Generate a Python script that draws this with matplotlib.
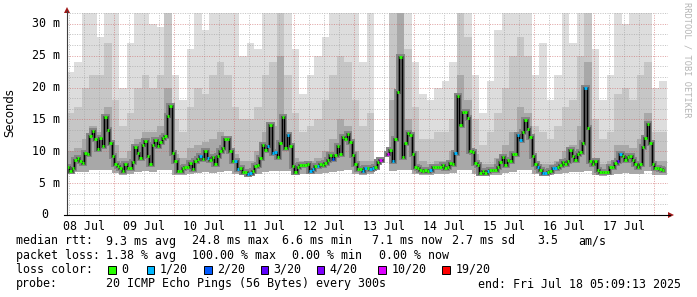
import numpy as np
import matplotlib
matplotlib.use("Agg")
import matplotlib.pyplot as plt
from matplotlib.lines import Line2D
from matplotlib.patches import Rectangle, Polygon

W, H = 697, 297
MONO = "DejaVu Sans Mono"
plt.rcParams['font.family'] = MONO

# hourly median rtt (ms), first sample 05:30 on 08 Jul
median_ms = [
    7.6, 6.95, 7.3, 8.7, 8.9, 8.5, 8.2, 9.7, 9.5, 12.4, 13.2, 12.0, 10.3, 12.1,
    10.9, 15.4, 13.3, 11.3, 9.2, 8.0, 7.7, 7.4, 6.95, 8.0, 7.4, 7.4, 8.3, 10.7,
    9.8, 8.9, 11.0, 11.6, 9.2, 8.0, 11.0, 11.8, 10.8, 11.5, 12.1, 12.4, 15.5,
    17.1, 9.8, 8.4, 6.9, 6.9, 7.3, 7.5, 7.6, 8.1, 7.2, 8.4, 8.8, 9.3, 8.8, 10.0,
    8.95, 8.7, 9.15, 8.0, 9.3, 10.0, 10.5, 11.9, 12.0, 10.1, 8.5, 8.4, 7.2, 7.3,
    6.75, 6.75, 6.5, 6.65, 6.9, 7.7, 7.9, 8.95, 11.0, 10.2, 10.9,
    14.2, 9.7, 9.9, 9.15, 11.25, 15.4, 10.5, 12.5, 10.8, 7.7, 6.75, 7.6, 7.8,
    7.8, 7.8, 8.0, 6.96, 7.2, 7.7, 7.7, 8.0, 7.8, 8.1, 8.6, 9.4, 8.8, 9.4, 10.8,
    9.5, 12.2, 11.9, 12.7, 11.5, 9.4, 8.0, 7.2, 7.2, 6.96, 7.3,
    7.4, 7.2, 7.3, 7.6, 8.3, 8.6, np.nan, np.nan, 9.6, 10.2, 8.5, 11.9, 19.3,
    24.85, 9.05, 11.35, 12.9, 12.6, 9.6, 7.6, 7.3, 7.06, 6.96, 7.06, 6.85, 7.06,
    7.5, 7.5, 7.6, 7.6, 7.9, 7.4, 7.6, 8.1, 8.0, 9.8, 18.6, 14.2, 16.2, 16.2, 15.2,
    10.1, 9.9, 8.1, 7.9, 6.65, 6.85, 6.65, 6.85, 7.06, 7.06, 7.06, 7.6, 8.3,
    9.15, 7.9, 8.7, 8.5, 9.6, 9.6, 12.5, 11.8, 13.1, 14.9, 13.45, 12.3, 9.3, 8.0,
    7.5, 7.06, 6.65, 6.65, 6.75, 6.96, 7.3, 7.3, 7.6, 7.9, 8.3, 8.0, 8.4,
    10.2, 9.3, 8.7, 9.5, 9.9, 11.35, 19.9, 13.7, 8.5, 8.0, 8.5, 7.06, 6.75, 6.75,
    6.75, 6.75, 7.5, 7.6, 8.2, 8.5, 9.6, 9.3, 8.7, 9.05, 9.3, 8.6, 8.0, 7.6, 8.0,
    10.6, 12.1, 14.3, 11.25, 8.0, 7.3, 7.4, 7.2, 7.06,
]
first_hour = 5.5   # hours after 08 Jul 00:00

# samples with lost pings (index into median_ms, pings lost of 20)
loss_idx = [53, 56, 67, 68, 72, 73, 80, 82, 83, 88, 97, 98, 100, 106, 118, 119,
            121, 122, 125, 128, 130, 145, 155, 168, 180, 181, 188, 190, 191,
            194, 195, 207, 220, 221]
loss_cnt = [1, 1, 1, 1, 1, 1, 1, 1, 1, 1, 1, 1, 1, 2, 1, 1,
            1, 1, 10, 10, 1, 1, 1, 1, 1, 1, 1, 1, 1,
            1, 1, 1, 3, 1]

# smoke, 3 hour bins starting 05:00 on 08 Jul (ms)
smoke_bot = [6.4, 6.7, 6.8, 7.0, 7.0, 7.1, 6.6, 6.3, 6.4, 6.7,
             6.9, 6.7, 7.0, 7.1, 6.3, 6.3, 6.4, 6.6, 6.7, 6.6,
             6.7, 6.9, 6.4, 6.2, 6.1, 6.4, 6.8, 6.9, 6.9, 6.9,
             6.3, 6.5, 6.4, 6.5, 6.6, 6.7, 6.9, 7.0, 6.4, 6.3,
             6.4, 6.6, np.nan, 6.9, 7.1, 7.1, 6.4, 6.3, 6.3, 6.4,
             6.4, 6.6, 7.1, 7.1, 6.5, 6.1, 6.2, 6.3, 6.6, 6.7,
             7.0, 7.1, 6.4, 6.1, 6.2, 6.4, 6.6, 6.7, 6.8, 6.9,
             6.3, 6.1, 6.2, 6.5, 6.6, 6.5, 6.5, 6.9, 6.3, 6.2]
smoke_dark = [10, 10.5, 12, 14, 13, 17, 11, 9, 10, 12,
              13, 13, 14, 20, 9.5, 9, 10.5, 11, 11.5, 12,
              13, 11, 9.5, 8.5, 8.5, 10, 13, 14, 25, 13,
              9, 8.5, 8.5, 9, 10, 12, 15, 14, 10, 8.5,
              8.5, 9.5, np.nan, 18, 31.7, 15, 10, 8.5, 8, 8.5,
              8.5, 10, 22, 18, 9.5, 8, 8, 9, 11, 13,
              17, 16, 8.5, 8, 8, 8.5, 10, 11, 14, 24,
              9, 8, 8.5, 11, 11, 10.5, 12, 16, 8.5, 8.5]
smoke_mid = [16, 17, 20, 22, 22, 27, 18, 14, 16, 20,
             22, 20, 22, 31.7, 15, 13, 17, 20, 19, 22,
             24, 22, 17, 15, 15, 17, 22, 24, 31.7, 22,
             16, 13, 14, 15, 18, 22, 25, 24, 18, 14,
             16, 17, np.nan, 31.7, 31.7, 26, 17, 12, 12, 13,
             13, 15, 31.7, 28, 15, 11, 13, 16, 20, 25,
             28, 25, 14, 13, 12, 14, 17, 18, 25, 31.7,
             15, 12, 13, 19, 20, 18, 22, 24, 13, 13]
smoke_top = [22.5, 24, 31.7, 31.7, 28, 31.7, 31.7, 20, 27, 31.7,
             31.7, 30, 29.5, 31.7, 22, 18, 26, 31.7, 29, 31.7,
             31.7, 31.7, 31.7, 25, 27, 26, 31.7, 31.7, 31.7, 31.7,
             26, 19, 22, 25, 28, 31.7, 31.7, 31.7, 31.7, 24,
             31.7, 28, np.nan, 31.7, 31.7, 31.7, 24, 19, 18, 20,
             21, 24, 31.7, 31.7, 22, 16, 21, 29, 31.7, 31.7,
             31.7, 31.7, 22, 27, 18, 22, 31.7, 27, 31.7, 31.7,
             26, 18, 22, 31.7, 30, 31.7, 31.7, 31.7, 20, 21]
smoke_start = 5.0
smoke_step = 3.0

loss_levels = [0, 1, 2, 3, 4, 10, 19]
loss_colors = ['#26ff00', '#00b8ff', '#0059ff', '#5e00ff', '#7e00ff', '#dd00ff', '#ff0000']
loss_labels = ['0', '1/20', '2/20', '3/20', '4/20', '10/20', '19/20']

day_labels = ['08 Jul', '09 Jul', '10 Jul', '11 Jul', '12 Jul',
              '13 Jul', '14 Jul', '15 Jul', '16 Jul', '17 Jul']

t_start = 5.154          # 08 Jul 05:09
t_end = t_start + 601 / 2.5
y_max = 31.7


def fx(px):
    return px / W


def fy(py):
    return 1 - py / H


fig = plt.figure(figsize=(W / 100, H / 100), dpi=100)
fig.patch.set_facecolor('white')
ax = fig.add_axes([fx(67), fy(215), 601 / W, 202 / H])
ax.set_xlim(t_start, t_end)
ax.set_ylim(0, y_max)
for s in ax.spines.values():
    s.set_visible(False)
ax.set_xticks([])
ax.set_yticks([])

# smoke
xs = smoke_start + smoke_step * np.arange(len(smoke_top) + 1)
def ext(a):
    return np.append(np.array(a, float), a[-1])
bot = ext(smoke_bot)
ax.fill_between(xs, bot, ext(smoke_top), step='post', color='#dddddd', lw=0, antialiased=False, zorder=1)
ax.fill_between(xs, bot, ext(smoke_mid), step='post', color='#c6c6c6', lw=0, antialiased=False, zorder=1.1)
ax.fill_between(xs, bot, ext(smoke_dark), step='post', color='#a8a8a8', lw=0, antialiased=False, zorder=1.2)

# grid, 1px on / 1px off dots
minor = dict(color='#a8a8a8', alpha=0.7, lw=0.72, ls=(0, (1, 1.4)), zorder=2)
major = dict(color='#cc6666', alpha=0.6, lw=0.72, ls=(0, (1, 1.4)), zorder=2.1)
for h in np.arange(6, 246, 6):
    if h % 24 == 0:
        ax.axvline(h, **major)
    else:
        ax.axvline(h, **minor)
for v in np.arange(1, 20) * 5 / 3:
    if abs(v / 5 - round(v / 5)) < 1e-6:
        ax.axhline(v, **major)
    else:
        ax.axhline(v, **minor)

# median with dark core
med = np.array(median_ms, float)
hours = first_hour + np.arange(len(med))
ax.step(hours, med, where='mid', color='#858585', lw=4.3, zorder=3, solid_joinstyle='miter')
ax.step(hours, med, where='mid', color='#555555', lw=2.2, zorder=3.1, solid_joinstyle='miter')
ax.step(hours, med, where='mid', color='black', lw=0.75, zorder=3.2)

loss = np.zeros(len(med), int)
loss[loss_idx] = loss_cnt
cols = []
for l in loss:
    c = loss_colors[0]
    for lev, col in zip(loss_levels, loss_colors):
        if l >= lev:
            c = col
    cols.append(c)
ok = ~np.isnan(med)
ax.hlines(med[ok], hours[ok] - 0.5, hours[ok] + 0.5, colors=np.array(cols)[ok], lw=2.1, zorder=4)

# axes lines and arrows
fig.add_artist(Line2D([fx(67), fx(67)], [fy(215), fy(11)], color='#404040', lw=0.8))
fig.add_artist(Line2D([fx(64), fx(670)], [fy(215), fy(215)], color='black', lw=0.8))
fig.add_artist(Polygon([[fx(64), fy(13)], [fx(70), fy(13)], [fx(67), fy(7)]], closed=True, color='#a01818', lw=0))
fig.add_artist(Polygon([[fx(668), fy(212)], [fx(668), fy(218)], [fx(674), fy(215)]], closed=True, color='#a01818', lw=0))

FS = 8.4
# y labels
for v in range(0, 31, 5):
    lab = f"{v} m" if v else "0"
    xr = 60 if v else 48
    ax.text((xr - 67) / 601, v, lab, transform=ax.get_yaxis_transform(), ha='right', va='center',
            fontsize=FS, family=MONO)
# x labels at noon of each day
for i, lab in enumerate(day_labels):
    ax.text(12 + 24 * i, -11 / 202, lab, transform=ax.get_xaxis_transform(), ha='center', va='center',
            fontsize=FS, family=MONO)

fig.text(fx(10), fy(113), 'Seconds', rotation=90, ha='center', va='center', fontsize=FS, family='DejaVu Sans')
fig.text(fx(687), fy(60), 'RRDTOOL / TOBI OETIKER', rotation=270, ha='center', va='center',
         fontsize=6.2, family=MONO, color='#b4b4b4')

# legend
line1 = [("median rtt:", 16), ("9.3 ms avg", 107), ("24.8 ms max", 193), ("6.6 ms min", 283),
         ("7.1 ms now", 373), ("2.7 ms sd", 453), ("3.5", 538), ("am/s", 579)]
line2 = [("packet loss:", 16), ("1.38 % avg", 107), ("100.00 % max", 193), ("0.00 % min", 292.5),
         ("0.00 % now", 379)]
line4 = [("probe:", 16), ("20 ICMP Echo Pings (56 Bytes) every 300s", 107),
         ("end: Fri Jul 18 05:09:13 2025", 478)]
for segs, yy in ((line1, 241), (line2, 255.5), (line4, 284)):
    for s, xx in segs:
        fig.text(fx(xx - 0.5), fy(yy), s, ha='left', va='center', fontsize=FS, family=MONO)

fig.text(fx(15.5), fy(269.5), "loss color:", ha='left', va='center', fontsize=FS, family=MONO)
sq_x = [108, 146.7, 204, 260.7, 316.7, 378.3, 442.3]
for col, lab, xx in zip(loss_colors, loss_labels, sq_x):
    fig.add_artist(Rectangle((fx(xx), fy(273.5)), 7.5 / W, 7.5 / H, facecolor=col,
                             edgecolor='black', lw=0.7))
    fig.text(fx(xx + 13), fy(269.5), lab, ha='left', va='center', fontsize=FS, family=MONO)

fig.savefig('out.png', dpi=100, facecolor='white')
